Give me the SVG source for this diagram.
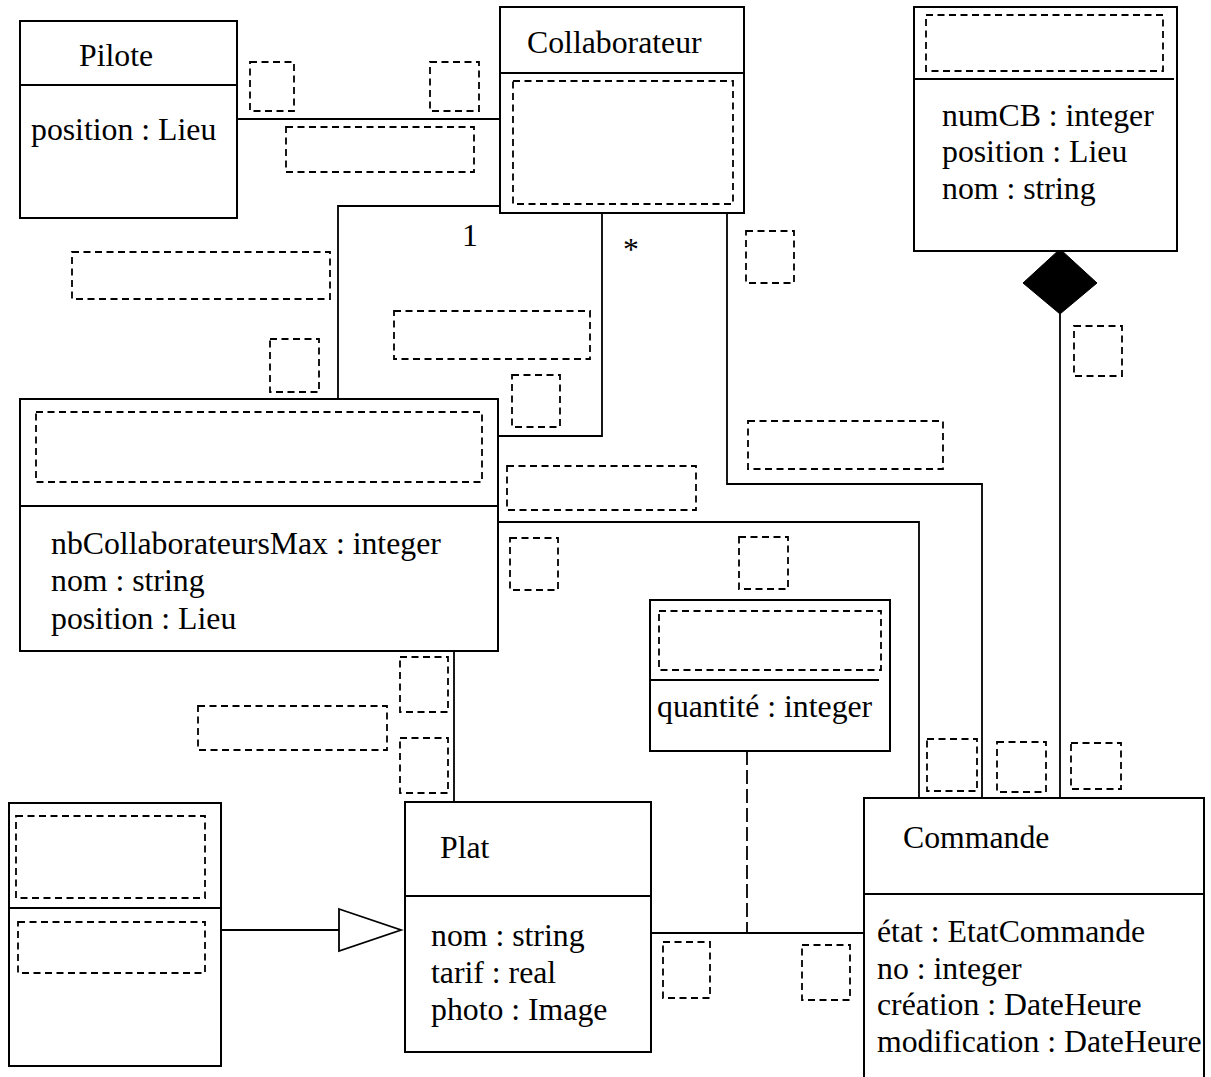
<svg xmlns="http://www.w3.org/2000/svg" width="1211" height="1077" viewBox="0 0 1211 1077">
<style>
.box{fill:#fff;stroke:#000;stroke-width:2}
.div{stroke:#000;stroke-width:2}
.ln{fill:none;stroke:#000;stroke-width:1.8}
.dl{fill:none;stroke:#000;stroke-width:1.8;stroke-dasharray:14 5}
.ph{fill:none;stroke:#000;stroke-width:1.8;stroke-dasharray:7 4.5}
.t{font-family:"Liberation Serif","Times New Roman",serif;font-size:31px;fill:#000}
</style>
<rect width="1211" height="1077" fill="#fff"/>
<g id="connectors">
<line class="ln" x1="237" y1="119" x2="500" y2="119"/>
<polyline class="ln" points="500,206 338,206 338,399"/>
<polyline class="ln" points="602,213 602,436 498,436"/>
<polyline class="ln" points="727,213 727,484 982,484 982,798"/>
<polyline class="ln" points="498,522 919,522 919,798"/>
<line class="ln" x1="1060" y1="314" x2="1060" y2="798"/>
<polygon points="1060,249 1097,283 1060,314 1023,283" fill="#000" stroke="#000" stroke-width="1"/>
<line class="ln" x1="454" y1="651" x2="454" y2="802"/>
<line class="ln" x1="651" y1="933" x2="864" y2="933"/>
<line class="dl" x1="747" y1="751" x2="747" y2="933"/>
<line class="ln" x1="221" y1="930" x2="339" y2="930"/>
<polygon points="339,909 401,930 339,951" fill="#fff" stroke="#000" stroke-width="1.8"/>
<text class="t" transform="matrix(1.025 0 0 1 462 246)">1</text>
<text class="t" transform="matrix(1.025 0 0 1 623 260)">*</text>
</g>
<g id="pilote">
<rect class="box" x="20" y="21" width="217" height="197"/>
<line class="div" x1="20" y1="85" x2="237" y2="85"/>
<text class="t" transform="matrix(1.025 0 0 1 79 66)">Pilote</text>
<text class="t" transform="matrix(1.025 0 0 1 31 140)">position : Lieu</text>
</g>
<g id="collaborateur">
<rect class="box" x="500" y="7" width="244" height="206"/>
<line class="div" x1="500" y1="73" x2="744" y2="73"/>
<text class="t" transform="matrix(1.025 0 0 1 527 53)">Collaborateur</text>
<rect class="ph" x="513" y="81" width="220" height="123"/>
</g>
<g id="client">
<rect class="box" x="914" y="7" width="263" height="244"/>
<line class="div" x1="913" y1="79" x2="1174" y2="79"/>
<rect class="ph" x="926" y="15" width="237" height="56"/>
<text class="t" transform="matrix(1.025 0 0 1 942 126)">numCB : integer</text>
<text class="t" transform="matrix(1.025 0 0 1 942 162)">position : Lieu</text>
<text class="t" transform="matrix(1.025 0 0 1 942 199)">nom : string</text>
</g>
<g id="restaurant">
<rect class="box" x="20" y="399" width="478" height="252"/>
<line class="div" x1="20" y1="506" x2="498" y2="506"/>
<rect class="ph" x="36" y="412" width="446" height="70"/>
<text class="t" transform="matrix(1.025 0 0 1 51 554)">nbCollaborateursMax : integer</text>
<text class="t" transform="matrix(1.025 0 0 1 51 591)">nom : string</text>
<text class="t" transform="matrix(1.025 0 0 1 51 629)">position : Lieu</text>
</g>
<g id="ligne">
<rect class="box" x="650" y="600" width="240" height="151"/>
<line class="div" x1="650" y1="680" x2="879" y2="680"/>
<rect class="ph" x="659" y="611" width="222" height="59"/>
<text class="t" transform="matrix(1.025 0 0 1 657 717)">quantité : integer</text>
</g>
<g id="plat">
<rect class="box" x="405" y="802" width="246" height="250"/>
<line class="div" x1="405" y1="896" x2="651" y2="896"/>
<text class="t" transform="matrix(1.025 0 0 1 440 858)">Plat</text>
<text class="t" transform="matrix(1.025 0 0 1 431 946)">nom : string</text>
<text class="t" transform="matrix(1.025 0 0 1 431 983)">tarif : real</text>
<text class="t" transform="matrix(1.025 0 0 1 431 1020)">photo : Image</text>
</g>
<g id="commande">
<rect class="box" x="864" y="798" width="340" height="300"/>
<line class="div" x1="864" y1="894" x2="1204" y2="894"/>
<text class="t" transform="matrix(1.025 0 0 1 903 848)">Commande</text>
<text class="t" transform="matrix(1.025 0 0 1 877 942)">état : EtatCommande</text>
<text class="t" transform="matrix(1.025 0 0 1 877 979)">no : integer</text>
<text class="t" transform="matrix(1.025 0 0 1 877 1015)">création : DateHeure</text>
<text class="t" transform="matrix(1.025 0 0 1 877 1052)">modification : DateHeure</text>
</g>
<g id="sousclasse">
<rect class="box" x="9" y="803" width="212" height="263"/>
<line class="div" x1="9" y1="908" x2="221" y2="908"/>
<rect class="ph" x="16" y="816" width="189" height="82"/>
<rect class="ph" x="18" y="922" width="187" height="51"/>
</g>
<g id="placeholders">
<rect class="ph" x="250" y="62" width="44" height="49"/>
<rect class="ph" x="430" y="62" width="49" height="49"/>
<rect class="ph" x="286" y="127" width="188" height="45"/>
<rect class="ph" x="72" y="252" width="258" height="47"/>
<rect class="ph" x="270" y="339" width="49" height="53"/>
<rect class="ph" x="394" y="311" width="196" height="48"/>
<rect class="ph" x="512" y="375" width="48" height="52"/>
<rect class="ph" x="746" y="231" width="48" height="52"/>
<rect class="ph" x="1074" y="326" width="48" height="50"/>
<rect class="ph" x="507" y="466" width="189" height="44"/>
<rect class="ph" x="748" y="421" width="195" height="48"/>
<rect class="ph" x="510" y="538" width="48" height="52"/>
<rect class="ph" x="739" y="537" width="49" height="52"/>
<rect class="ph" x="400" y="657" width="48" height="55"/>
<rect class="ph" x="400" y="738" width="48" height="55"/>
<rect class="ph" x="198" y="706" width="189" height="44"/>
<rect class="ph" x="927" y="739" width="50" height="52"/>
<rect class="ph" x="997" y="742" width="49" height="50"/>
<rect class="ph" x="1071" y="743" width="50" height="46"/>
<rect class="ph" x="663" y="942" width="47" height="56"/>
<rect class="ph" x="802" y="945" width="48" height="55"/>
</g>
</svg>
